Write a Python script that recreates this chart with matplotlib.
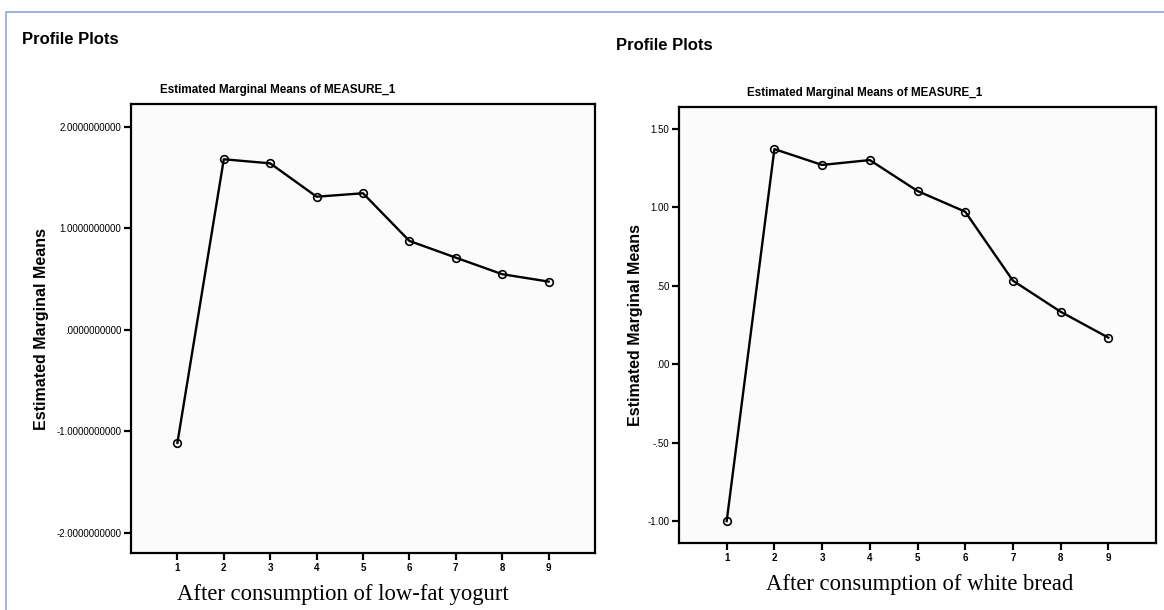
import matplotlib.pyplot as plt
from matplotlib.patches import Rectangle

# time points (1..9) and estimated marginal means
time_points = [1, 2, 3, 4, 5, 6, 7, 8, 9]
yogurt_means = [-1.114, 1.682, 1.642, 1.313, 1.347, 0.877, 0.712, 0.549, 0.476]
bread_means = [-1.00, 1.369, 1.268, 1.299, 1.102, 0.970, 0.531, 0.333, 0.168]

yogurt_yticks = [-2, -1, 0, 1, 2]
yogurt_ylabels = ['-2.0000000000', '-1.0000000000', '.0000000000',
                  '1.0000000000', '2.0000000000']
bread_yticks = [-1.0, -0.5, 0.0, 0.5, 1.0, 1.5]
bread_ylabels = ['-1.00', '-.50', '.00', '.50', '1.00', '1.50']

title = 'Estimated Marginal Means of MEASURE_1'
ylabel = 'Estimated Marginal Means'
xlabels = ['After consumption of low-fat yogurt', 'After consumption of white bread']

W, H = 1164, 610
fig = plt.figure(figsize=(W / 100, H / 100), dpi=100)
fig.patch.set_facecolor('white')

sans = 'Liberation Sans'
serif = 'Liberation Serif'

# thin blue frame of the output window
fig.add_artist(Rectangle((6 / W, -0.05), 1.2, 1 - 12 / H + 0.05,
                         transform=fig.transFigure, fill=False,
                         edgecolor='#8eaadb', linewidth=1.2))


def make_panel(rect, means, yticks, ylabels_, ylim, xlab, title_x, xlab_x,
               xlab_y, ylab_x):
    ax = fig.add_axes(rect)
    ax.set_facecolor('#fbfbfb')
    ax.plot(time_points, means, color='black', linewidth=1.7,
            marker='o', markersize=5.5, markerfacecolor='none',
            markeredgecolor='black', markeredgewidth=1.2)
    ax.set_xlim(0, 10)
    ax.set_ylim(*ylim)
    ax.set_xticks(time_points)
    ax.set_xticklabels([str(t) for t in time_points], fontsize=7,
                       fontweight='bold', family=sans)
    ax.set_yticks(yticks)
    ax.set_yticklabels(ylabels_, fontsize=7, family=sans)
    for s in ax.spines.values():
        s.set_linewidth(1.6)
    ax.tick_params(direction='out', length=5, width=1.6, pad=2)
    ax.text(title_x, 1.031, title, transform=ax.transAxes, ha='center',
            va='center', fontsize=8.4, fontweight='bold', family=sans)
    ax.set_ylabel(ylabel, fontsize=11.5, fontweight='bold', family=sans)
    ax.yaxis.label.set_va('center')
    ax.yaxis.set_label_coords(ylab_x, 0.5)
    ax.set_xlabel(xlab, fontsize=16.3, family=serif)
    ax.xaxis.label.set_va('center')
    ax.xaxis.set_label_coords(xlab_x, xlab_y)
    return ax


ax1 = make_panel([131 / W, 1 - 553 / H, (595 - 131) / W, (553 - 104) / H],
                 yogurt_means, yogurt_yticks, yogurt_ylabels, (-2.2, 2.227),
                 xlabels[0], 0.317, 0.457, -0.0935, -0.192)

ax2 = make_panel([679 / W, 1 - 543 / H, (1156 - 679) / W, (543 - 107) / H],
                 bread_means, bread_yticks, bread_ylabels, (-1.14, 1.637),
                 xlabels[1], 0.39, 0.504, -0.096, -0.092)

fig.text(22 / W, 1 - 40 / H, 'Profile Plots', fontsize=12, fontweight='bold',
         family=sans, va='center', ha='left')
fig.text(616 / W, 1 - 46 / H, 'Profile Plots', fontsize=12, fontweight='bold',
         family=sans, va='center', ha='left')

fig.savefig('out.png', dpi=100, facecolor='white')
